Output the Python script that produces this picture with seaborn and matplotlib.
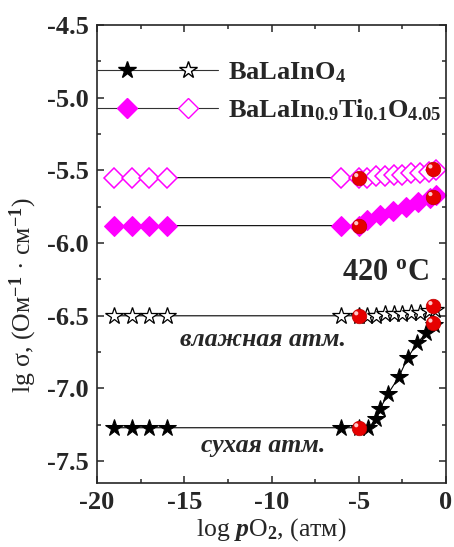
import matplotlib
matplotlib.use("Agg")
import matplotlib.pyplot as plt
import matplotlib.transforms as mtransforms
import seaborn as sns
from matplotlib.lines import Line2D
from matplotlib.legend_handler import HandlerTuple

# ---- data ----
wet_ti_x = [-19, -18, -17, -16, -6, -5, -4.5, -4, -3.5, -3, -2.5, -2, -1.5, -1, -0.6]
wet_ti_y = [-5.55, -5.55, -5.55, -5.55, -5.55, -5.55, -5.55, -5.54, -5.54, -5.53, -5.53, -5.52, -5.52, -5.51, -5.50]

dry_ti_x = [-19, -18, -17, -16, -6, -5, -4.5, -3.8, -3.05, -2.3, -1.6, -0.9, -0.6]
dry_ti_y = [-5.88, -5.88, -5.88, -5.88, -5.88, -5.88, -5.84, -5.81, -5.78, -5.75, -5.72, -5.69, -5.67]

wet_in_x = [-19, -18, -17, -16, -6, -5, -4.5, -4, -3.5, -3, -2.5, -2, -1.5, -1, -0.65]
wet_in_y = [-6.50, -6.50, -6.50, -6.50, -6.50, -6.50, -6.50, -6.50, -6.49, -6.49, -6.49, -6.48, -6.48, -6.47, -6.46]

dry_in_x = [-19, -18, -17, -16, -6, -5, -4.45, -4.0, -3.78, -3.34, -2.7, -2.2, -1.67, -1.14, -0.7]
dry_in_y = [-7.27, -7.27, -7.27, -7.27, -7.27, -7.27, -7.27, -7.21, -7.14, -7.04, -6.92, -6.79, -6.69, -6.62, -6.56]

red_x = [-5, -0.75, -5, -0.75, -5, -0.75, -5, -0.75]
red_y = [-5.55, -5.49, -5.88, -5.68, -6.50, -6.43, -7.27, -6.55]

xticks = [-20, -15, -10, -5, 0]
yticks = [-7.5, -7.0, -6.5, -6.0, -5.5, -5.0, -4.5]

# ---- style ----
sns.set_style("ticks")
plt.rcParams['font.family'] = ['Liberation Serif', 'DejaVu Serif']
plt.rcParams['font.weight'] = 'bold'
plt.rcParams['mathtext.fontset'] = 'custom'
plt.rcParams['mathtext.rm'] = 'Liberation Serif:bold'
plt.rcParams['mathtext.bf'] = 'Liberation Serif:bold'
plt.rcParams['mathtext.it'] = 'Liberation Serif:italic:bold'
plt.rcParams['axes.linewidth'] = 1.2

fig = plt.figure(figsize=(4.54, 5.47), dpi=100)
ax = fig.add_axes([97/454, 1-483/547, (446-97)/454, (483-25)/547])

MAG = '#ff00ff'
lw = 0.8

sns.lineplot(x=wet_ti_x, y=wet_ti_y, ax=ax, color='black', lw=lw, marker='D',
             markersize=10, markerfacecolor='white', markeredgecolor=MAG, markeredgewidth=1.1)
sns.lineplot(x=dry_ti_x, y=dry_ti_y, ax=ax, color='black', lw=lw, marker='D',
             markersize=10, markerfacecolor=MAG, markeredgecolor=MAG)
sns.lineplot(x=wet_in_x, y=wet_in_y, ax=ax, color='black', lw=lw, marker='*',
             markersize=13, markerfacecolor='white', markeredgecolor='black', markeredgewidth=0.9)
sns.lineplot(x=dry_in_x, y=dry_in_y, ax=ax, color='black', lw=lw, marker='*',
             markersize=13, markerfacecolor='black', markeredgecolor='black')
sns.scatterplot(x=red_x, y=red_y, ax=ax, color='#e60000', s=110, edgecolor='#c00000',
                linewidth=0.5, zorder=5)
hl = mtransforms.offset_copy(ax.transData, fig=fig, x=-2.5, y=2.5, units='dots')
sns.scatterplot(x=red_x, y=red_y, ax=ax, color='#ffc8c8', s=9, edgecolor='none',
                zorder=6, transform=hl)

ax.set_xlim(-20, 0)
ax.set_ylim(-7.65, -4.5)
ax.set_xticks(xticks)
ax.set_yticks(yticks)
ax.set_xticklabels(['-20', '-15', '-10', '-5', '0'])
ax.set_yticklabels([f'{v:.1f}' for v in yticks])
ax.xaxis.set_minor_locator(matplotlib.ticker.MultipleLocator(2.5))
ax.yaxis.set_minor_locator(matplotlib.ticker.MultipleLocator(0.25))
ax.tick_params(which='both', direction='in', top=True, right=True, width=1.1, labelsize=19)
ax.tick_params(which='major', length=5, pad=6)
ax.tick_params(which='minor', length=3)

ax.set_xlabel(r'log $\mathit{p}$O$_2$, (атм)', fontsize=18.5, labelpad=1)
ax.set_ylabel(r'lg σ, (Ом$^{-1}$ · см$^{-1}$)', fontsize=18.5)
ax.yaxis.set_label_coords(-0.165, 0.41)

ax.text(-3.5, -6.2, r'420 $^{\mathrm{o}}$C', fontsize=22, ha='center', va='center')
ax.text(-10.5, -6.66, 'влажная атм.', fontsize=18.5, style='italic', weight='bold',
        ha='center', va='center')
ax.text(-10.5, -7.39, 'сухая атм.', fontsize=18.5, style='italic', weight='bold',
        ha='center', va='center')

# legend
h1a = Line2D([], [], color='#333333', lw=lw, marker='*', markersize=13,
             markerfacecolor='black', markeredgecolor='black')
h1b = Line2D([], [], color='#333333', lw=lw, marker='*', markersize=13,
             markerfacecolor='white', markeredgecolor='black')
h2a = Line2D([], [], color='#333333', lw=lw, marker='D', markersize=10,
             markerfacecolor=MAG, markeredgecolor=MAG)
h2b = Line2D([], [], color='#333333', lw=lw, marker='D', markersize=10,
             markerfacecolor='white', markeredgecolor=MAG)
leg = ax.legend([(h1a, h1b), (h2a, h2b)],
                [r'BaLaInO$_4$', r'BaLaIn$_{0.9}$Ti$_{0.1}$O$_{4.05}$'],
                handler_map={tuple: HandlerTuple(ndivide=None, pad=0.0)},
                loc='upper left', bbox_to_anchor=(0.0, 0.922), frameon=False,
                fontsize=19, handlelength=4.6, handletextpad=0.35, numpoints=1,
                labelspacing=0.45, borderpad=0.0, borderaxespad=0.0)

fig.savefig('out.png', dpi=100)
